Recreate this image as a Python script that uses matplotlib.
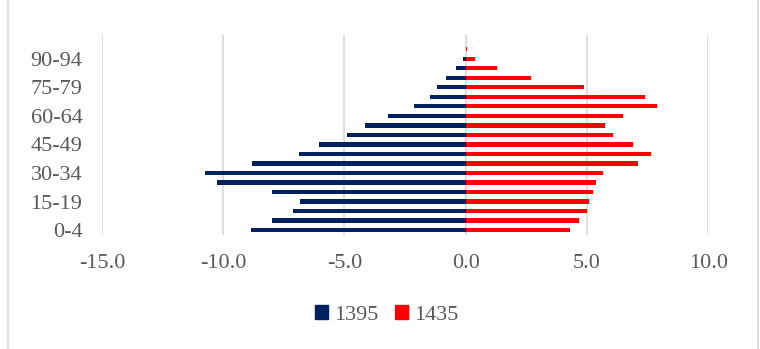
import matplotlib.pyplot as plt
from matplotlib.patches import Rectangle, Patch

# age groups, bottom to top
age_groups = ["0-4", "5-9", "10-14", "15-19", "20-24", "25-29", "30-34",
              "35-39", "40-44", "45-49", "50-54", "55-59", "60-64", "65-69",
              "70-74", "75-79", "80-84", "85-89", "90-94", "95-99", "100+"]

# share of population (%), 1395 drawn on the negative side
pop_1395 = [-8.87, -8.00, -7.11, -6.82, -7.98, -10.25, -10.74, -8.79, -6.89,
            -6.03, -4.89, -4.16, -3.20, -2.15, -1.47, -1.18, -0.81, -0.39,
            -0.11, 0.0, 0.0]
pop_1435 = [4.31, 4.68, 4.99, 5.07, 5.23, 5.37, 5.66, 7.09, 7.63, 6.90, 6.06,
            5.73, 6.49, 7.87, 7.38, 4.89, 2.71, 1.28, 0.39, 0.07, 0.0]

x_ticks = [-15, -10, -5, 0, 5, 10]
series_names = ["1395", "1435"]
colors = ["#002060", "#ff0000"]

plt.rcParams["font.family"] = ["Liberation Serif", "DejaVu Serif"]
text_color = "#595959"
font_size = 16

fig = plt.figure(figsize=(7.6, 3.49), dpi=100)
fig.patches.append(Rectangle((0.011, -0.01), 0.986, 1.02, transform=fig.transFigure,
                             fill=False, edgecolor="#d9d9d9", linewidth=1.2))

ax = fig.add_axes([0.134, 0.327, 0.798, 0.573])
rows = range(len(age_groups))
ax.barh(rows, pop_1395, height=0.45, color=colors[0], zorder=3)
ax.barh(rows, pop_1435, height=0.45, color=colors[1], zorder=3)

ax.set_xlim(-15, 10)
ax.set_ylim(-0.5, len(age_groups) - 0.5)
ax.set_xticks(x_ticks)
ax.set_xticklabels([f"{v:.1f}" for v in x_ticks])
ax.set_yticks(list(rows)[::3])
ax.set_yticklabels(age_groups[::3])
ax.tick_params(axis="both", length=0, labelsize=font_size, colors=text_color)
ax.tick_params(axis="x", pad=14)
ax.tick_params(axis="y", pad=14)
ax.xaxis.grid(True, color="#d9d9d9", linewidth=1.2, zorder=0)
for spine in ax.spines.values():
    spine.set_visible(False)

handles = [Patch(color=c) for c in colors]
fig.legend(handles, series_names, loc="center", bbox_to_anchor=(387 / 760, 1 - 315 / 349),
           ncol=2, frameon=False, fontsize=font_size, labelcolor=text_color,
           handlelength=0.55, handleheight=0.55, handletextpad=0.3, columnspacing=0.75)

fig.savefig("out.png", dpi=100)
